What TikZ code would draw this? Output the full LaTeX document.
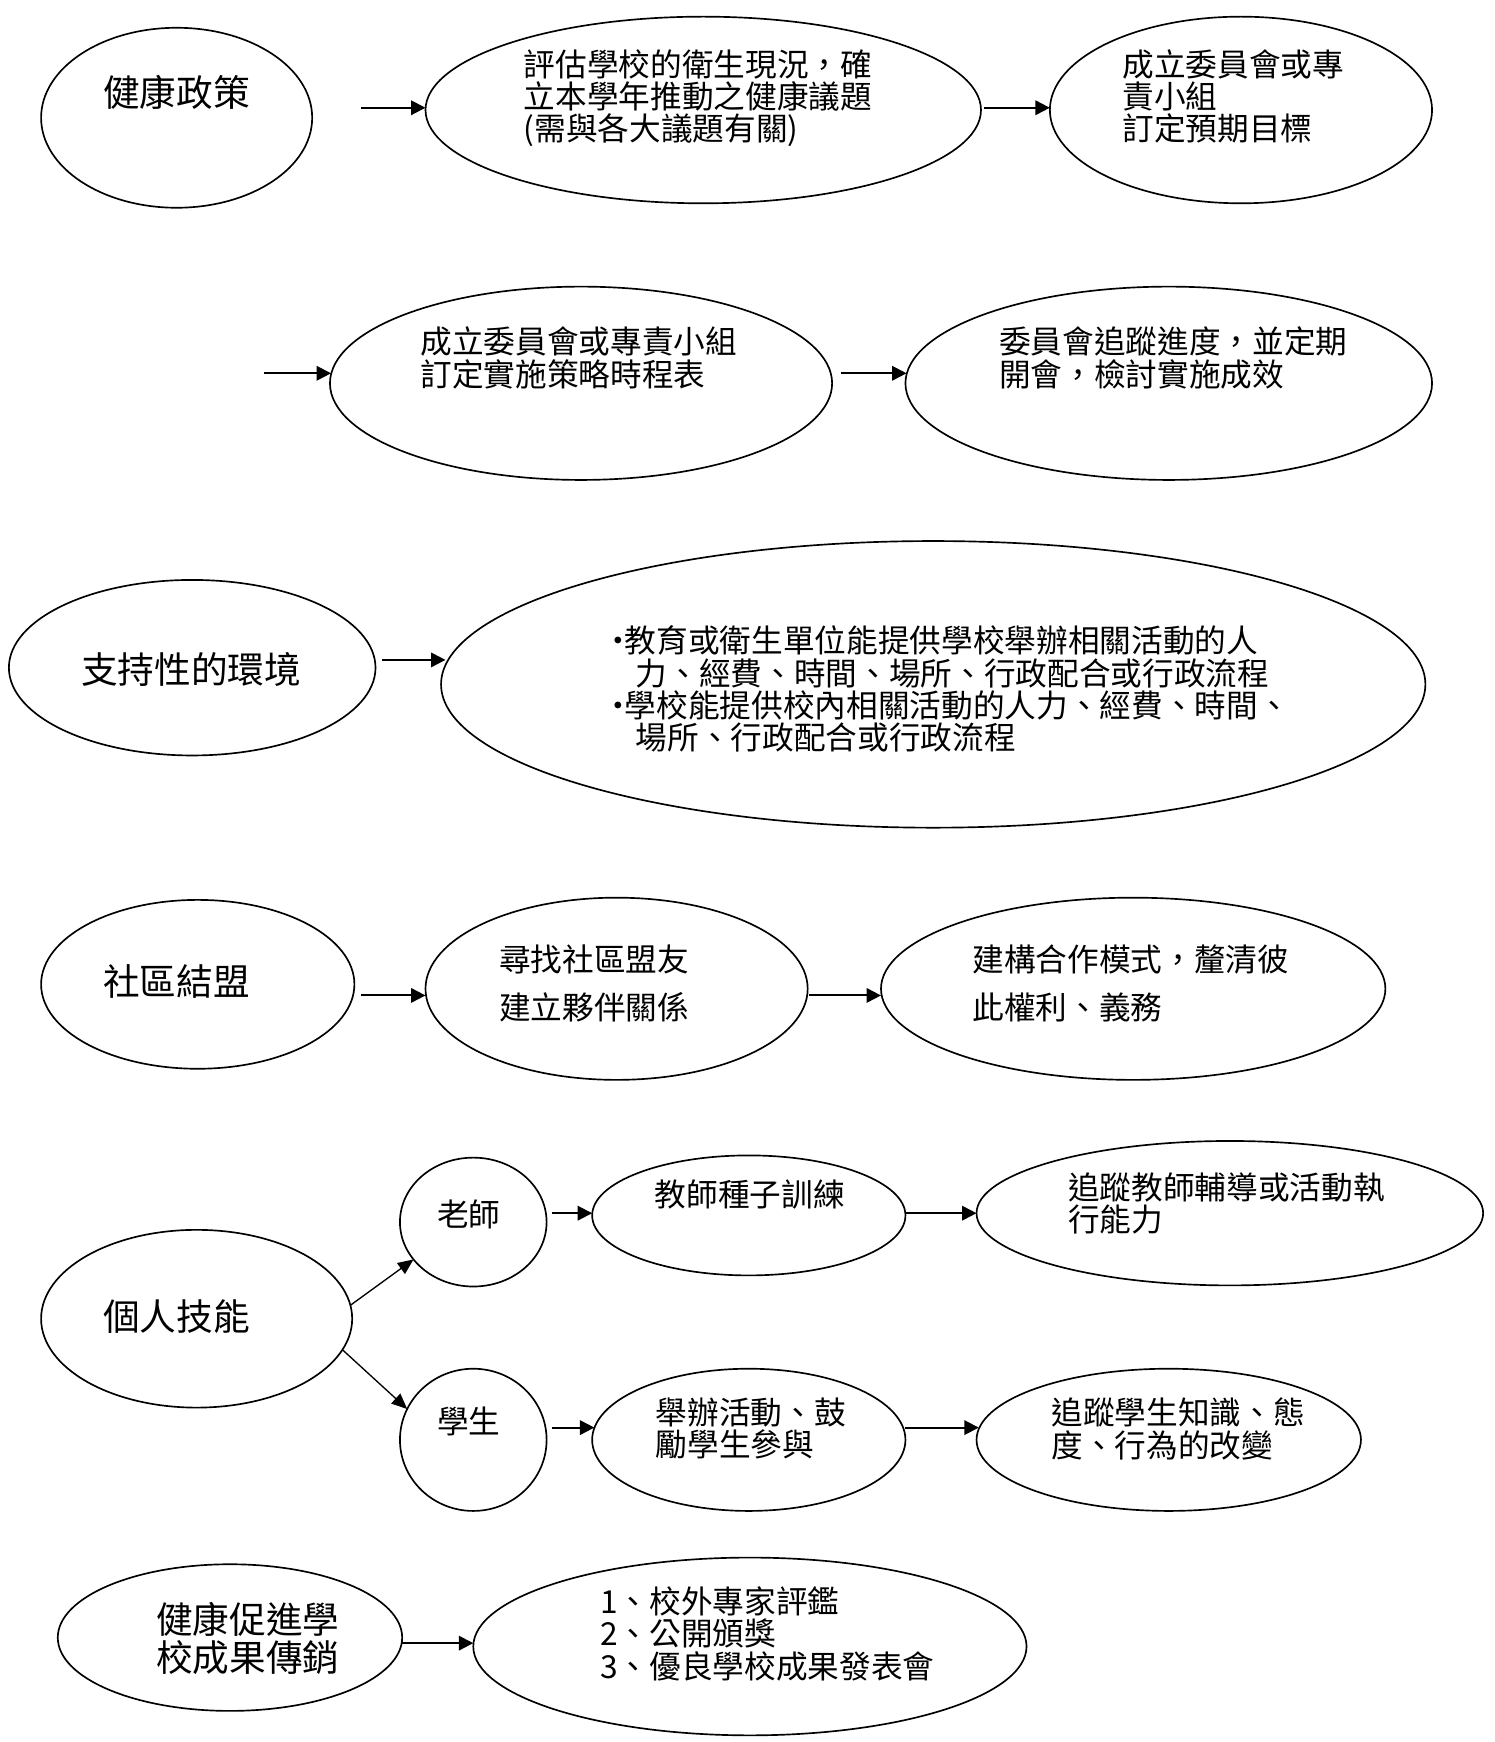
\documentclass[tikz,border=0pt]{standalone}
\usepackage{fontspec}
\setmainfont{Noto Sans CJK TC}
\usetikzlibrary{shapes.geometric,arrows.meta,calc}
\begin{document}
\begin{tikzpicture}[x=0.5pt,y=-0.5pt,
  oval/.style={ellipse,draw,line width=0.75pt,inner sep=0pt,outer sep=0pt},
  txt/.style={inner sep=0pt,font=\fontsize{14.25pt}{14.5pt}\selectfont,align=left,anchor=north west},
  ctxt/.style={inner sep=0pt,font=\fontsize{14.25pt}{14.5pt}\selectfont,align=center},
  bigtxt/.style={inner sep=0pt,font=\fontsize{16.5pt}{17pt}\selectfont,align=center},
  arr/.style={line width=0.9pt,-{Triangle[length=6.5pt,width=6.5pt]}},
  darr/.style={line width=0.6pt,-{Triangle[length=7pt,width=6pt]}}]
\useasboundingbox (0,0) rectangle (1345,1568);

% Row 1
\node[oval,minimum width=122pt,minimum height=81pt] (pol) at (159,106) {};
\node[oval,minimum width=250pt,minimum height=84pt] (eval) at (633,99) {};
\node[oval,minimum width=172pt,minimum height=84pt] (comm) at (1117,99) {};
\node[bigtxt] (tpol) at (159,83) {健康政策};
\node[txt] (teval) at (471,44) {評估學校的衛生現況，確\\立本學年推動之健康議題\\(需與各大議題有關)};
\node[txt] (tcomm) at (1010,44) {成立委員會或專\\責小組\\訂定預期目標};
\draw[arr] ($(eval.west)+(-58,-2)$) -- ($(eval.west)+(0,-2)$);
\draw[arr] ($(comm.west)+(-59,-2)$) -- ($(comm.west)+(0,-2)$);

% Row 2
\node[oval,minimum width=226pt,minimum height=87pt] (plan) at (523,345) {};
\node[oval,minimum width=237pt,minimum height=87pt] (rev) at (1052,345) {};
\node[txt] (tplan) at (378,294) {成立委員會或專責小組\\訂定實施策略時程表};
\node[txt] (trev) at (899,294) {委員會追蹤進度，並定期\\開會，檢討實施成效};
\draw[arr] ($(plan.west)+(-59,-9)$) -- ($(plan.west)+(1,-9)$);
\draw[arr] ($(rev.west)+(-58,-9)$) -- ($(rev.west)+(1,-9)$);

% Row 3
\node[oval,minimum width=165pt,minimum height=79pt] (env) at (173,601) {};
\node[oval,minimum width=443pt,minimum height=129pt] (envd) at (840,616) {};
\node[bigtxt] (tenv) at (172,603) {支持性的環境};
\node[txt] (tenvd) at (550,563) {\makebox[6pt][c]{·}教育或衛生單位能提供學校舉辦相關活動的人\\
\hspace*{11pt}力、經費、時間、場所、行政配合或行政流程\\
\makebox[6pt][c]{·}學校能提供校內相關活動的人力、經費、時間、\\
\hspace*{11pt}場所、行政配合或行政流程};
\draw[arr] ($(envd.west)+(-53,-22)$) -- ($(envd.west)+(4,-22)$);

% Row 4
\node[oval,minimum width=141pt,minimum height=76pt] (alli) at (178,886) {};
\node[oval,minimum width=172pt,minimum height=82pt] (find) at (555,890) {};
\node[oval,minimum width=227pt,minimum height=82pt] (coop) at (1020,890) {};
\node[bigtxt] (talli) at (159,883) {社區結盟};
\node[txt] (tfind) at (449,850) {尋找社區盟友\\[7pt]建立夥伴關係};
\node[txt] (tcoop) at (875,850) {建構合作模式，釐清彼\\[7pt]此權利、義務};
\draw[arr] ($(find.west)+(-58,6)$) -- ($(find.west)+(0,6)$);
\draw[arr] ($(coop.west)+(-65,6)$) -- ($(coop.west)+(0,6)$);

% Row 5
\node[oval,minimum width=140pt,minimum height=80pt] (skill) at (177,1187) {};
\node[oval,minimum width=66pt,minimum height=58pt] (teach) at (426,1100) {};
\node[oval,minimum width=66pt,minimum height=64pt] (stud) at (426,1296) {};
\node[oval,minimum width=141pt,minimum height=54pt] (seed) at (674,1094) {};
\node[oval,minimum width=228pt,minimum height=65pt] (tfol) at (1107,1092) {};
\node[oval,minimum width=141pt,minimum height=64pt] (act) at (674,1296) {};
\node[oval,minimum width=173pt,minimum height=64pt] (sfol) at (1052,1296) {};
\node[bigtxt] (tskill) at (159,1185) {個人技能};
\node[ctxt] (tteach) at (422,1093) {老師};
\node[ctxt] (tstud) at (422,1279) {學生};
\node[ctxt] (tseed) at (675,1075) {教師種子訓練};
\node[txt] (ttfol) at (961,1055) {追蹤教師輔導或活動執\\行能力};
\node[txt] (tact) at (590,1258) {舉辦活動、鼓\\勵學生參與};
\node[txt] (tsfol) at (946,1258) {追蹤學生知識、態\\度、行為的改變};
\draw[darr] (skill.5) -- (teach.212);
\draw[darr] (skill.-12) -- (stud.155);
\draw[arr] ($(seed.west)+(-36,-2)$) -- ($(seed.west)+(0,-2)$);
\draw[arr] ($(tfol.west)+(-64,0)$) -- (tfol.west);
\draw[arr] ($(act.west)+(-36,-11)$) -- ($(act.west)+(2,-11)$);
\draw[arr] ($(sfol.west)+(-64,-11)$) -- ($(sfol.west)+(2,-11)$);

% Row 6
\node[oval,minimum width=155pt,minimum height=66pt] (prom) at (207,1474) {};
\node[oval,minimum width=249pt,minimum height=80pt] (prod) at (675,1482) {};
\node[bigtxt] (tprom) at (223,1475) {健康促進學\\校成果傳銷};
\node[txt] (tprod) at (540,1428) {1、校外專家評鑑\\2、公開頒獎\\3、優良學校成果發表會};
\draw[arr] ($(prod.west)+(-64,-3)$) -- ($(prod.west)+(0,-3)$);
\end{tikzpicture}
\end{document}
